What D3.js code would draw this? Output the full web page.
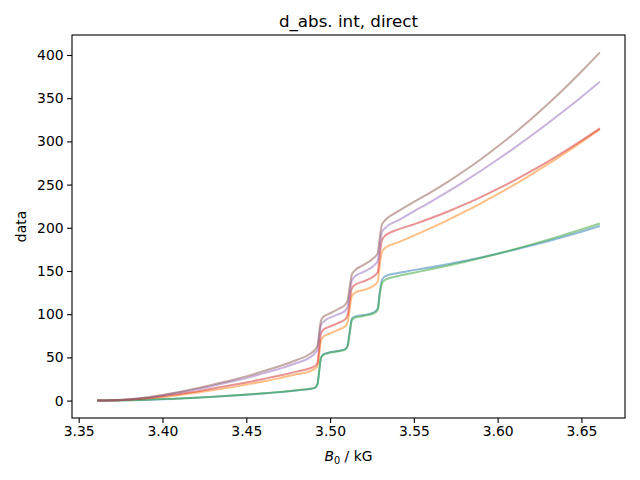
<!DOCTYPE html>
<html>
<head>
<meta charset="utf-8">
<script src="https://cdn.jsdelivr.net/npm/d3@7"></script>
<style>
  body { margin: 0; background: #fff; }
  svg { display: block; }
  text { font-family: "DejaVu Sans", sans-serif; fill: #000; }
</style>
</head>
<body>
<svg id="chart" width="640" height="480"></svg>
<script>
// ---- data ----
const B0 = [3.361, 3.37, 3.38, 3.39, 3.40, 3.41, 3.42, 3.43, 3.44, 3.45, 3.46, 3.47, 3.48, 3.488,
  3.491, 3.4925, 3.4935, 3.4945, 3.496, 3.499, 3.505, 3.509, 3.5105, 3.5117, 3.513, 3.515, 3.52, 3.526,
  3.5285, 3.5296, 3.531, 3.533,
  3.54, 3.55, 3.56, 3.57, 3.58, 3.59, 3.60, 3.61, 3.62, 3.63, 3.64, 3.65, 3.661];

const seriesBlue   = [0, 0.1, 0.3, 0.8, 1.5, 2.3, 3.2, 4.3, 5.5, 6.8, 8.2, 9.8, 11.8, 13.5,
  14.8, 19, 34, 49, 53.5, 55.5, 57.5, 59.5, 64, 79, 95, 97.5, 99, 102,
  107, 125, 140, 144,
  147.5, 151, 154.3, 157.8, 161.6, 165.7, 170, 174.6, 179.4, 184.5, 189.9, 195.5, 202];
const seriesOrange = [0, 0.2, 1, 2.3, 4.2, 6.5, 9, 12, 15, 18.5, 22, 26, 30.5, 34,
  37, 40, 54, 69, 74, 77, 82, 86, 91, 106, 121, 125, 128, 133,
  138, 156, 172, 177,
  182.8, 191, 199.6, 208.7, 218.4, 228.4, 239, 250, 261.6, 273.6, 286.2, 299.2, 314];
const seriesGreen  = [0, 0.1, 0.4, 1, 1.7, 2.5, 3.4, 4.5, 5.7, 7, 8.4, 10, 12, 13.8,
  15, 19, 34, 49, 53, 55, 57, 59, 63, 78, 93, 96, 98, 101,
  105, 122, 136, 140,
  144, 148, 151.9, 156.1, 160.5, 165.1, 170, 175.1, 180.5, 186.1, 192, 198, 205];
const seriesRed    = [0, 0.3, 1.2, 2.7, 5, 7.5, 10.5, 14, 17.5, 21, 25, 29, 33.5, 37.5,
  40, 44, 60, 77, 82, 85, 90, 94, 99, 115, 130, 134, 138, 144,
  149, 168, 186, 191,
  197.6, 204, 211, 218.6, 226.8, 235.6, 245, 255, 265.6, 276.7, 288.4, 300.8, 315];
const seriesPurple = [0, 0.3, 1.4, 3.2, 6, 9.3, 13, 17, 21.5, 26, 31.5, 37, 43.5, 50,
  55, 59, 73, 87, 91, 95, 100, 104, 109, 124, 139, 144, 149, 156,
  162, 179, 195, 200,
  208, 219, 230, 241.5, 253.5, 266, 279, 292.5, 306.5, 321, 336, 351.4, 369];
const seriesBrown  = [0, 0.3, 1.5, 3.5, 6.5, 10, 14, 18.5, 23, 28, 34, 40, 47, 54,
  59, 64, 78, 92, 97, 100, 106, 111, 116, 131, 146, 151, 157, 165,
  171, 188, 204, 209,
  218.5, 230, 241, 252.9, 265.7, 279.4, 294, 309.5, 326, 343.4, 361.6, 380.9, 403];

const seriesList = [seriesBlue, seriesOrange, seriesGreen, seriesRed, seriesPurple, seriesBrown];
const seriesColors = ["#1f77b4", "#ff7f0e", "#2ca02c", "#d62728", "#9467bd", "#8c564b"];

const xTicks = [3.35, 3.40, 3.45, 3.50, 3.55, 3.60, 3.65];
const yTicks = [0, 50, 100, 150, 200, 250, 300, 350, 400];
const titleText = "d_abs. int, direct";
const yLabelText = "data";

(function () {
// ---- layout ----
const svg = d3.select("#chart");
const mLeft = 72, mRight = 625, mTop = 35, mBottom = 418;

const xMin = d3.min(B0), xMax = d3.max(B0);
const xPad = (xMax - xMin) * 0.05;
const allY = seriesList.flat();
const yMin = d3.min(allY), yMax = d3.max(allY);
const yPad = (yMax - yMin) * 0.05;

const x = d3.scaleLinear().domain([xMin - xPad, xMax + xPad]).range([mLeft, mRight]);
const y = d3.scaleLinear().domain([yMin - yPad, yMax + yPad]).range([mBottom, mTop]);

// lines
const line = d3.line()
  .x((d, i) => x(B0[i]))
  .y(d => y(d))
  .curve(d3.curveMonotoneX);

const plot = svg.append("g");
seriesList.forEach((s, k) => {
  plot.append("path")
    .datum(s)
    .attr("d", line)
    .attr("fill", "none")
    .attr("stroke", seriesColors[k])
    .attr("stroke-opacity", 0.5)
    .attr("stroke-width", 2);
});

// axes
const fs = 13.9;
const xAxis = d3.axisBottom(x).tickValues(xTicks).tickFormat(d3.format(".2f"))
  .tickSizeInner(4.9).tickSizeOuter(0).tickPadding(3.5);
const gx = svg.append("g").attr("transform", `translate(0,${mBottom})`).call(xAxis);
gx.select(".domain").remove();
gx.selectAll("line").attr("stroke", "#000").attr("stroke-width", 1.1);
gx.selectAll("text").attr("font-size", fs).attr("font-family", "DejaVu Sans").attr("fill", "#000");

const yAxis = d3.axisLeft(y).tickValues(yTicks).tickFormat(d3.format("d"))
  .tickSizeInner(4.9).tickSizeOuter(0).tickPadding(3.5);
const gy = svg.append("g").attr("transform", `translate(${mLeft},0)`).call(yAxis);
gy.select(".domain").remove();
gy.selectAll("line").attr("stroke", "#000").attr("stroke-width", 1.1);
gy.selectAll("text").attr("font-size", fs).attr("font-family", "DejaVu Sans").attr("fill", "#000");

// frame
svg.append("rect")
  .attr("x", mLeft).attr("y", mTop)
  .attr("width", mRight - mLeft).attr("height", mBottom - mTop)
  .attr("fill", "none").attr("stroke", "#000").attr("stroke-width", 1.1);

// title
svg.append("text")
  .attr("x", (mLeft + mRight) / 2).attr("y", mTop - 8.5)
  .attr("text-anchor", "middle").attr("font-size", 16.7)
  .text(titleText);

// x label
const xl = svg.append("text")
  .attr("x", (mLeft + mRight) / 2).attr("y", 461)
  .attr("text-anchor", "middle").attr("font-size", fs);
xl.append("tspan").attr("font-style", "italic").text("B");
xl.append("tspan").attr("font-size", fs * 0.7).attr("dy", 3).text("0");
xl.append("tspan").attr("dy", -3).text(" / kG");

// y label
svg.append("text")
  .attr("transform", `translate(26,${(mTop + mBottom) / 2}) rotate(-90)`)
  .attr("text-anchor", "middle").attr("font-size", fs)
  .text(yLabelText);
})();
</script>
</body>
</html>
